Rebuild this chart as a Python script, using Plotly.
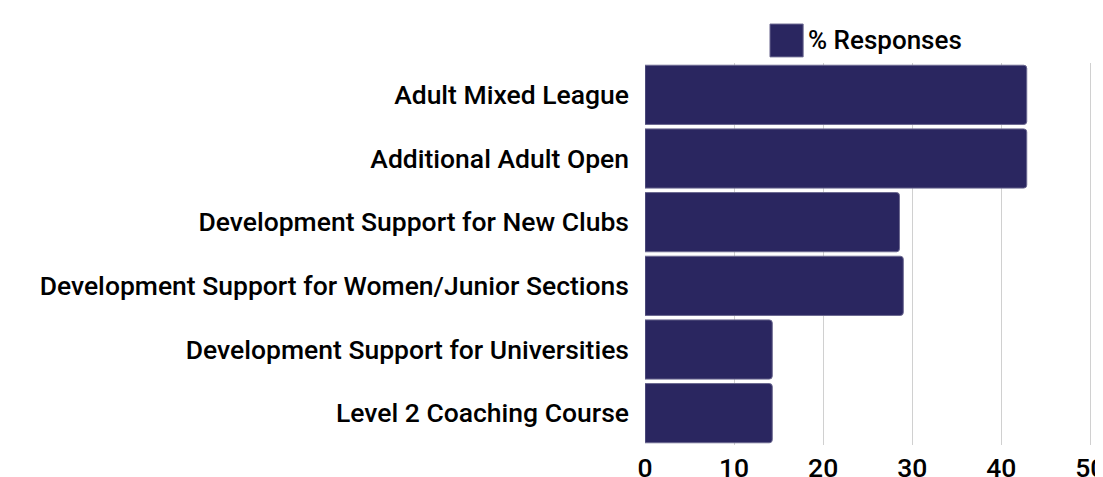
import plotly.graph_objects as go

categories = [
    "Adult Mixed League",
    "Additional Adult Open",
    "Development Support for New Clubs",
    "Development Support for Women/Junior Sections",
    "Development Support for Universities",
    "Level 2 Coaching Course",
]
responses = [42.86, 42.86, 28.57, 29.0, 14.29, 14.29]
series_name = "% Responses"
x_ticks = [0, 10, 20, 30, 40, 50]

BAR = "#2A2660"
FONT = "Roboto"

fig = go.Figure(go.Bar(
    x=responses, y=categories, orientation="h", name=series_name,
    marker=dict(color=BAR, line=dict(color="#6B6890", width=1), cornerradius=3),
    showlegend=False,
))

# legend drawn by hand so the swatch can be large
fig.add_shape(type="rect", xref="paper", yref="paper",
              x0=0.279, x1=0.353, y0=1.016, y1=1.102,
              fillcolor=BAR, line=dict(color="#6B6890", width=1))
fig.add_annotation(text=series_name, xref="paper", yref="paper",
                   x=0.360, y=1.059, xanchor="left", yanchor="middle",
                   showarrow=False, font=dict(family=FONT, size=26, color="#000", weight=500))

# page body adds an 8px offset, so the figure is sized to fit inside the window
fig.update_layout(
    width=1095, height=469, plot_bgcolor="white", paper_bgcolor="white",
    margin=dict(l=637, r=10, t=55, b=32),
    bargap=0.07,
    font=dict(family=FONT, size=26.5, color="#000", weight=500),
)
fig.update_xaxes(range=[0, 50.3], tickvals=x_ticks, showgrid=True, gridcolor="#D0D0D0",
                 gridwidth=1, zeroline=False, showline=False, ticks="",
                 automargin=False, ticklabeloverflow="allow", ticklabelstandoff=4)
fig.update_yaxes(autorange="reversed", showgrid=False, zeroline=False, ticks="",
                 automargin=False, ticklabelstandoff=15)

fig.write_html("out.html")
